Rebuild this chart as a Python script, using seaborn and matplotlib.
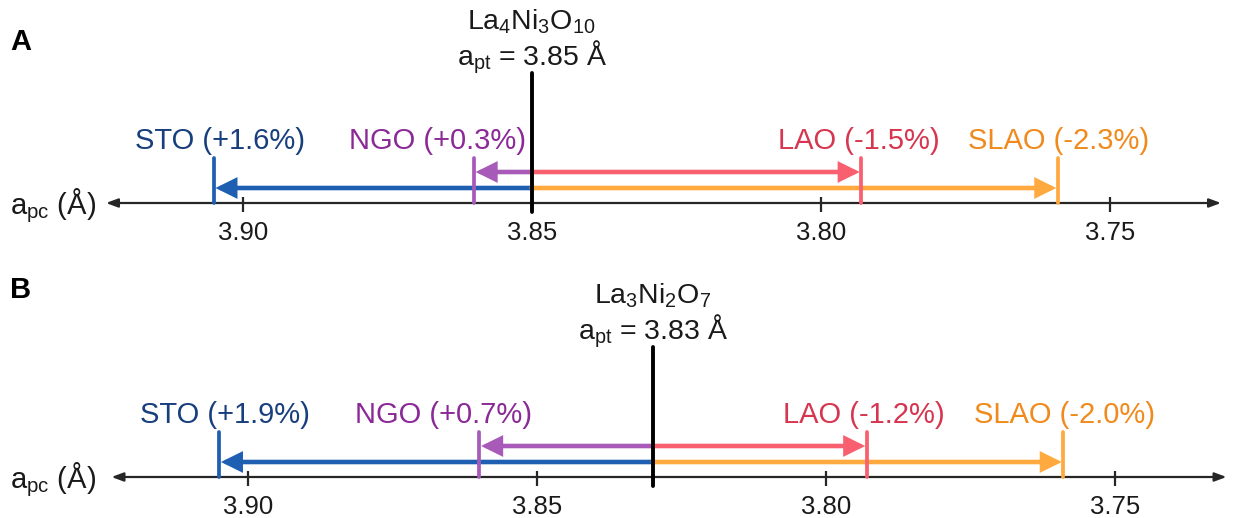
import matplotlib
matplotlib.use("Agg")
import matplotlib.pyplot as plt
import pandas as pd
import seaborn as sns

# Substrate pseudocubic lattice parameters (Å) and their colours
substrates = ["STO", "NGO", "LAO", "SLAO"]
a_substrate = [3.905, 3.860, 3.793, 3.759]
line_colors = ["#1f5fb2", "#a85ab8", "#f8606f", "#ffa93f"]
text_colors = ["#183f7d", "#8b2a97", "#d6364f", "#f08a1c"]

# Films shown in the two panels
panel_letters = ["A", "B"]
film_names = ["La$_4$Ni$_3$O$_{10}$", "La$_3$Ni$_2$O$_7$"]
a_film = [3.85, 3.83]
strain_A = ["+1.6%", "+0.3%", "-1.5%", "-2.3%"]
strain_B = ["+1.9%", "+0.7%", "-1.2%", "-2.0%"]
strains = [strain_A, strain_B]

tick_values = [3.90, 3.85, 3.80, 3.75]
tick_labels = ["3.90", "3.85", "3.80", "3.75"]

sns.set_theme(style="white")
plt.rcParams["font.family"] = ["Liberation Sans", "DejaVu Sans"]
plt.rcParams["mathtext.fontset"] = "custom"
plt.rcParams["mathtext.rm"] = "Liberation Sans"
plt.rcParams["mathtext.it"] = "Liberation Sans:italic"
plt.rcParams["mathtext.bf"] = "Liberation Sans:bold"
plt.rcParams["mathtext.default"] = "regular"

W, H = 1233, 518
fig = plt.figure(figsize=(W / 100, H / 100), dpi=100)
fig.patch.set_facecolor("white")

x_left, x_right = 3.92364, 3.73080   # reversed lattice-parameter axis
ax_px_left, ax_px_width = 106, 1115
panel_dx = [0.0, 5.5]
panel_dy = [0, 274]

AXIS_COLOR = "#262626"


def frame(ax):
    ax.set_xlim(x_left, x_right)
    ax.set_ylim(H, 0)          # vertical coordinate in pixels from the top
    ax.set_axis_off()


for p in range(2):
    oy = panel_dy[p]
    ax = fig.add_axes([(ax_px_left + panel_dx[p]) / W, 0, ax_px_width / W, 1])
    frame(ax)

    y_axis = 203 + oy

    # number line with arrowheads on both ends
    ax.annotate("", xy=(x_right, y_axis), xytext=(x_left, y_axis),
                arrowprops=dict(arrowstyle="<|-|>,head_length=7,head_width=2.6",
                                mutation_scale=1, lw=1.6, color=AXIS_COLOR,
                                shrinkA=0, shrinkB=0),
                annotation_clip=False)
    ax.vlines(tick_values, 197 + oy, 212 + oy, lw=1.6, color=AXIS_COLOR)
    for t, lab in zip(tick_values, tick_labels):
        ax.text(t, 240 + oy, lab, ha="center", va="baseline",
                fontsize=18.5, color="#1a1a1a")

    # substrate markers
    marks = pd.DataFrame({
        "a": [a for a in a_substrate for _ in range(2)],
        "y": [v for _ in a_substrate for v in (158 + oy, y_axis)],
        "substrate": [s for s in substrates for _ in range(2)],
    })
    sns.lineplot(data=marks, x="a", y="y", hue="substrate", units="substrate",
                 estimator=None, sort=False, palette=dict(zip(substrates, line_colors)),
                 linewidth=2.7, legend=False, ax=ax, zorder=3)
    frame(ax)

    # strain arrows from the film value to each substrate
    arrow_rows = [188, 172, 172, 188]
    for a_s, col, yr in zip(a_substrate, line_colors, arrow_rows):
        ax.annotate("", xy=(a_s, yr + oy), xytext=(a_film[p], yr + oy),
                    arrowprops=dict(arrowstyle="-|>,head_length=10.5,head_width=5.2",
                                    mutation_scale=1, lw=3.3, color=col,
                                    shrinkA=0, shrinkB=1.2, joinstyle="miter"),
                    zorder=2)

    # substrate labels
    label_dx = [6, -36, -3, 1]
    for name, a_s, col, s, dx in zip(substrates, a_substrate, text_colors,
                                     strains[p], label_dx):
        ax.annotate(f"{name} ({s})", xy=(a_s, 149 + oy), xytext=(dx, 0),
                    textcoords="offset pixels", ha="center", va="baseline",
                    fontsize=21, color=col)

    # film lattice parameter
    film = pd.DataFrame({"a": [a_film[p], a_film[p]], "y": [73 + oy, 212 + oy]})
    sns.lineplot(data=film, x="a", y="y", color="black", linewidth=2.8,
                 estimator=None, sort=False, ax=ax, zorder=5)
    frame(ax)

    ax.text(a_film[p], 29 + oy, film_names[p], ha="center", va="baseline",
            fontsize=20.5, color="#1a1a1a")
    ax.text(a_film[p], 65 + oy, f"a$_{{pt}}$ = {a_film[p]:.2f} Å", ha="center",
            va="baseline", fontsize=20.5, color="#1a1a1a")

    # axis title
    fig.text(10 / W, 1 - (214 + oy) / H, "a$_{pc}$ (Å)", ha="left",
             va="baseline", fontsize=21, color="#1a1a1a")

# panel letters
fig.text(10 / W, 1 - 50 / H, panel_letters[0], fontsize=21, fontweight="bold",
         ha="left", va="baseline", color="black")
fig.text(10 / W, 1 - 298 / H, panel_letters[1], fontsize=21, fontweight="bold",
         ha="left", va="baseline", color="black")

fig.savefig("out.png", dpi=100, facecolor="white")
